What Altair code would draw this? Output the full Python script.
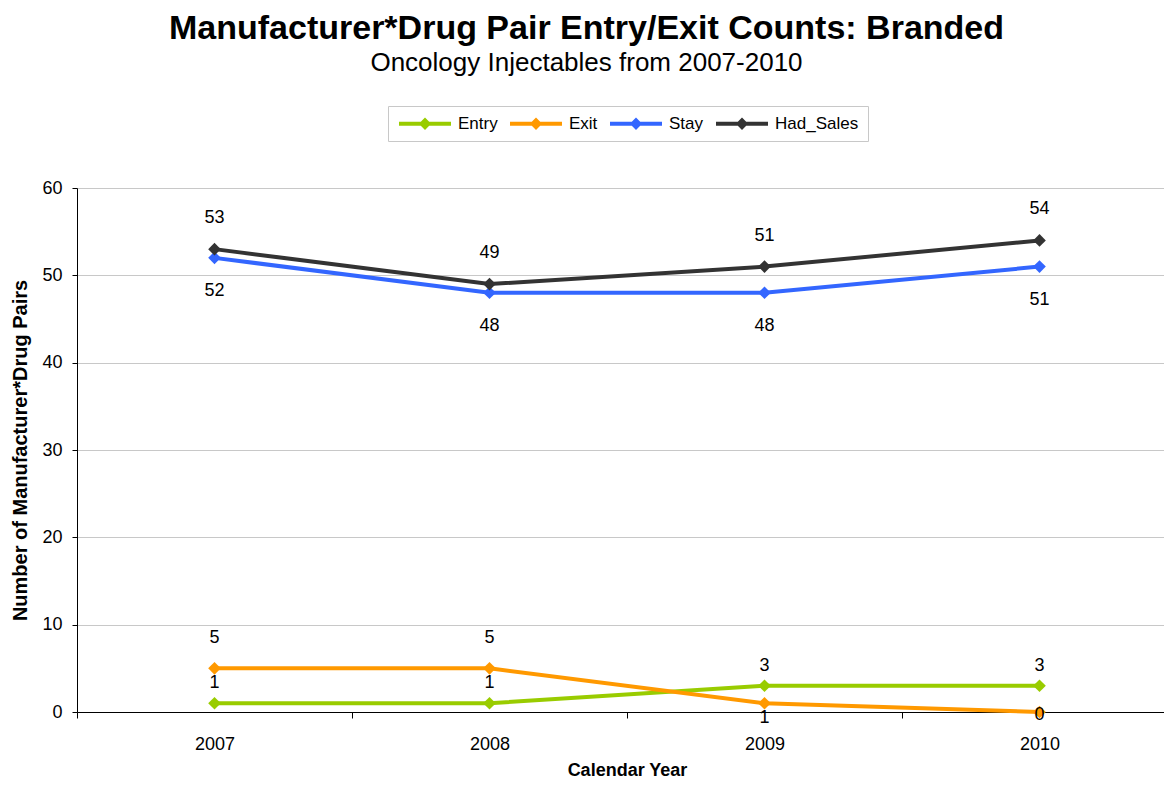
import altair as alt
import pandas as pd

years = ["2007", "2008", "2009", "2010"]
series = ["Entry", "Exit", "Stay", "Had_Sales"]
entry = [1, 1, 3, 3]
exit_ = [5, 5, 1, 0]
stay = [52, 48, 48, 51]
had_sales = [53, 49, 51, 54]
colors = ["#99CC00", "#FF9900", "#3366FF", "#333333"]

rows = []
for name, vals in zip(series, [entry, exit_, stay, had_sales]):
    for yr, v in zip(years, vals):
        rows.append({"Year": yr, "Series": name, "Count": v})
df = pd.DataFrame(rows)

FONT = "Liberation Sans"
W, H = 1085, 524

xenc = alt.X(
    "Year:N", sort=years,
    scale=alt.Scale(type="band", range=[0, 1100], paddingInner=0, paddingOuter=0),
    axis=alt.Axis(title="Calendar Year", labelAngle=0, tickBand="extent", grid=False,
                  domainColor="black", tickColor="black", tickSize=6, labelPadding=17,
                  labelFontSize=18, labelFont=FONT, labelColor="black",
                  titleFont=FONT, titleFontSize=18, titleFontWeight="bold", titleColor="black",
                  titlePadding=8),
)
yenc = alt.Y(
    "Count:Q", scale=alt.Scale(domain=[0, 60]),
    axis=alt.Axis(title="Number of Manufacturer*Drug Pairs", values=[0, 10, 20, 30, 40, 50, 60],
                  grid=True, gridColor="#c8c8c8", domainColor="black", tickColor="black",
                  tickSize=5, labelPadding=10, labelFontSize=18, labelFont=FONT, labelColor="black",
                  titleFont=FONT, titleFontSize=20, titleFontWeight="bold", titleColor="black",
                  titlePadding=11),
)
cscale = alt.Scale(domain=series, range=colors)

legend_path = ("M-1,-0.31L7,-0.31L7,0.31L-1,0.31Z "
               "M3,-0.95L3.95,0L3,0.95L2.05,0Z")
leg = alt.Legend(title=None, orient="none", legendX=311, legendY=-82,
                 direction="horizontal", symbolType=legend_path,
                 symbolSize=169, symbolStrokeWidth=0, symbolOpacity=1,
                 labelOffset=44, labelFontSize=17, labelFont=FONT,
                 labelColor="black", columnPadding=10, padding=9,
                 strokeColor="#c8c8c8", fillColor="white")

lines = alt.Chart(df).mark_line(strokeWidth=4).encode(
    x=xenc, y=yenc,
    color=alt.Color("Series:N", scale=cscale, sort=series, legend=leg),
)
points = alt.Chart(df).mark_point(shape="diamond", filled=True, size=160, opacity=1).encode(
    x=xenc, y=yenc,
    color=alt.Color("Series:N", scale=cscale, sort=series, legend=leg),
)

def labels(filter_expr, dy):
    return alt.Chart(df).transform_filter(filter_expr).mark_text(
        font=FONT, fontSize=18, color="black", dy=dy, baseline="middle"
    ).encode(x=xenc, y=yenc, text="Count:Q")

txt_had = labels("datum.Series == 'Had_Sales'", -31)
txt_stay = labels("datum.Series == 'Stay'", 33)
txt_entry = labels("datum.Series == 'Entry'", -20)
txt_exit_a = labels("datum.Series == 'Exit' && (datum.Year == '2007' || datum.Year == '2008')", -30)
txt_exit_b = labels("datum.Series == 'Exit' && datum.Year == '2009'", 15)
txt_exit_c = labels("datum.Series == 'Exit' && datum.Year == '2010'", 3)

chart = alt.layer(points, lines, txt_had, txt_stay, txt_entry, txt_exit_a, txt_exit_b, txt_exit_c).properties(
    width=W, height=H,
    autosize=alt.AutoSizeParams(type="none"),
    padding={"left": 69, "top": 180, "right": 2, "bottom": 66},
    title=alt.TitleParams(
        text="Manufacturer*Drug Pair Entry/Exit Counts: Branded",
        subtitle="Oncology Injectables from 2007-2010",
        font=FONT, fontSize=34, fontWeight="bold", color="black",
        subtitleFont=FONT, subtitleFontSize=26, subtitleColor="black", subtitlePadding=4,
        anchor="middle", frame="group", dx=-33, offset=30,
    ),
).configure_view(stroke=None)

chart.save("out.html", embed_options={"renderer": "svg", "actions": False})
